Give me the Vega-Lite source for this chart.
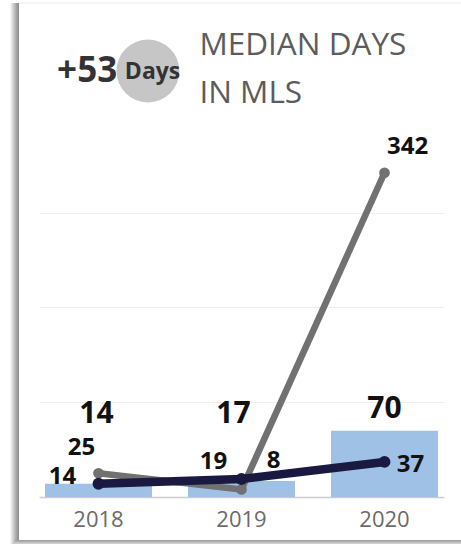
{
  "$schema": "https://vega.github.io/schema/vega-lite/v6.json",
  "width": 405,
  "height": 474,
  "autosize": {"type": "none"},
  "padding": {"left": 39, "top": 23, "right": 17, "bottom": 47},
  "background": "white",
  "config": {"view": {"stroke": null}, "font": "Open Sans"},
  "layer": [
    {
      "data": {"values": [{"delta": "+53", "unit": "Days"}]},
      "layer": [
        {
          "mark": {"type": "rect", "fill": {"gradient": "linear", "x1": 0, "y1": 0, "x2": 1, "y2": 0, "stops": [{"offset": 0, "color": "#ffffff"}, {"offset": 0.5, "color": "#c0c0c0"}, {"offset": 1, "color": "#858585"}]}},
          "encoding": {
            "x": {"datum": -7.2, "type": "quantitative", "scale": {"domain": [0, 100]}, "axis": null},
            "x2": {"datum": -4.95},
            "y": {"datum": 521, "type": "quantitative"},
            "y2": {"datum": -49.6}
          }
        },
        {
          "mark": {"type": "rect", "fill": {"gradient": "linear", "x1": 0, "y1": 0, "x2": 0, "y2": 1, "stops": [{"offset": 0, "color": "#9a9a9a"}, {"offset": 1, "color": "#d8d8d8"}]}},
          "encoding": {
            "x": {"datum": -6.0, "type": "quantitative", "axis": null},
            "x2": {"datum": 104.3},
            "y": {"datum": -45.4, "type": "quantitative"},
            "y2": {"datum": -49.6}
          }
        },
        {
          "mark": {"type": "rule", "color": "#ececec", "strokeWidth": 1},
          "encoding": {
            "x": {"datum": -4.95, "type": "quantitative", "axis": null},
            "x2": {"datum": 104.3},
            "y": {"datum": 521, "type": "quantitative"}
          }
        },
        {
          "mark": {"type": "point", "filled": true, "color": "#c6c6c6", "opacity": 1, "size": 3950},
          "encoding": {
            "x": {"datum": 26.9, "type": "quantitative", "axis": null},
            "y": {"datum": 449.4, "type": "quantitative"}
          }
        },
        {
          "mark": {"type": "text", "align": "right", "baseline": "alphabetic", "fontSize": 35, "fontWeight": "bold", "color": "#333333"},
          "encoding": {
            "x": {"datum": 19.3, "type": "quantitative", "axis": null},
            "y": {"datum": 437.8, "type": "quantitative"},
            "text": {"field": "delta"}
          }
        },
        {
          "mark": {"type": "text", "align": "left", "baseline": "alphabetic", "fontSize": 23, "fontWeight": "bold", "color": "#333333"},
          "encoding": {
            "x": {"datum": 21.2, "type": "quantitative", "axis": null},
            "y": {"datum": 441, "type": "quantitative"},
            "text": {"field": "unit"}
          }
        },
        {
          "mark": {"type": "text", "align": "left", "baseline": "alphabetic", "fontSize": 31.5, "lineHeight": 48, "color": "#5c5c5c"},
          "encoding": {
            "x": {"datum": 39.6, "type": "quantitative", "axis": null},
            "y": {"datum": 466.2, "type": "quantitative"},
            "text": {"value": ["MEDIAN DAYS", "IN MLS"]}
          }
        }
      ]
    },
    {
      "data": {"values": [
        {"year": "2018", "bar": 14, "gray": 25, "dark": 14},
        {"year": "2019", "bar": 17, "gray": 8, "dark": 19},
        {"year": "2020", "bar": 70, "gray": 342, "dark": 37}
      ]},
      "layer": [
        {
          "mark": {"type": "bar", "color": "#9fc1e6"},
          "encoding": {
            "x": {"field": "year", "type": "nominal", "scale": {"paddingInner": 0.252, "paddingOuter": 0.042},
              "axis": {"title": null, "labelAngle": 0, "labelFontSize": 22, "labelColor": "#6b6b6b", "labelPadding": 12, "ticks": false, "domainColor": "#cccccc", "domainWidth": 1.5}},
            "y": {"field": "bar", "type": "quantitative", "scale": {"domain": [0, 500], "nice": false},
              "axis": {"title": null, "values": [100, 200, 300], "grid": true, "gridColor": "#efefef", "labels": false, "ticks": false, "domain": false}}
          }
        },
        {
          "mark": {"type": "text", "fontSize": 30, "fontWeight": "bold", "color": "#111111", "baseline": "middle",
            "dx": {"expr": "datum.year == '2019' ? -8 : datum.year == '2018' ? -2 : 0"},
            "dy": {"expr": "datum.year == '2020' ? -22 : datum.year == '2018' ? -70 : -67"}},
          "encoding": {
            "x": {"field": "year", "type": "nominal"},
            "y": {"field": "bar", "type": "quantitative", "title": null},
            "text": {"field": "bar", "type": "quantitative"}
          }
        },
        {
          "mark": {"type": "line", "color": "#717171", "strokeWidth": 6.5, "strokeCap": "round", "strokeJoin": "round"},
          "encoding": {
            "x": {"field": "year", "type": "nominal"},
            "y": {"field": "gray", "type": "quantitative", "title": null}
          }
        },
        {
          "mark": {"type": "point", "filled": true, "opacity": 1, "color": "#717171", "size": 115},
          "encoding": {
            "x": {"field": "year", "type": "nominal"},
            "y": {"field": "gray", "type": "quantitative", "title": null}
          }
        },
        {
          "mark": {"type": "line", "color": "#1a1942", "strokeWidth": 8.5, "strokeCap": "round", "strokeJoin": "round"},
          "encoding": {
            "x": {"field": "year", "type": "nominal"},
            "y": {"field": "dark", "type": "quantitative", "title": null}
          }
        },
        {
          "mark": {"type": "point", "filled": true, "opacity": 1, "color": "#1a1942", "size": 140},
          "encoding": {
            "x": {"field": "year", "type": "nominal"},
            "y": {"field": "dark", "type": "quantitative", "title": null}
          }
        },
        {
          "mark": {"type": "text", "fontSize": 24, "fontWeight": "bold", "color": "#111111", "baseline": "middle",
            "dx": {"expr": "datum.year == '2018' ? -17 : datum.year == '2019' ? 32 : 23"},
            "dy": {"expr": "datum.year == '2018' ? -25 : datum.year == '2019' ? -28 : -26"}},
          "encoding": {
            "x": {"field": "year", "type": "nominal"},
            "y": {"field": "gray", "type": "quantitative", "title": null},
            "text": {"field": "gray", "type": "quantitative"}
          }
        },
        {
          "mark": {"type": "text", "fontSize": 24, "fontWeight": "bold", "color": "#111111", "baseline": "middle",
            "dx": {"expr": "datum.year == '2018' ? -36 : datum.year == '2019' ? -28 : 26"},
            "dy": {"expr": "datum.year == '2018' ? -7 : datum.year == '2019' ? -17 : 3"}},
          "encoding": {
            "x": {"field": "year", "type": "nominal"},
            "y": {"field": "dark", "type": "quantitative", "title": null},
            "text": {"field": "dark", "type": "quantitative"}
          }
        }
      ]
    }
  ],
  "resolve": {"scale": {"x": "independent"}}
}
